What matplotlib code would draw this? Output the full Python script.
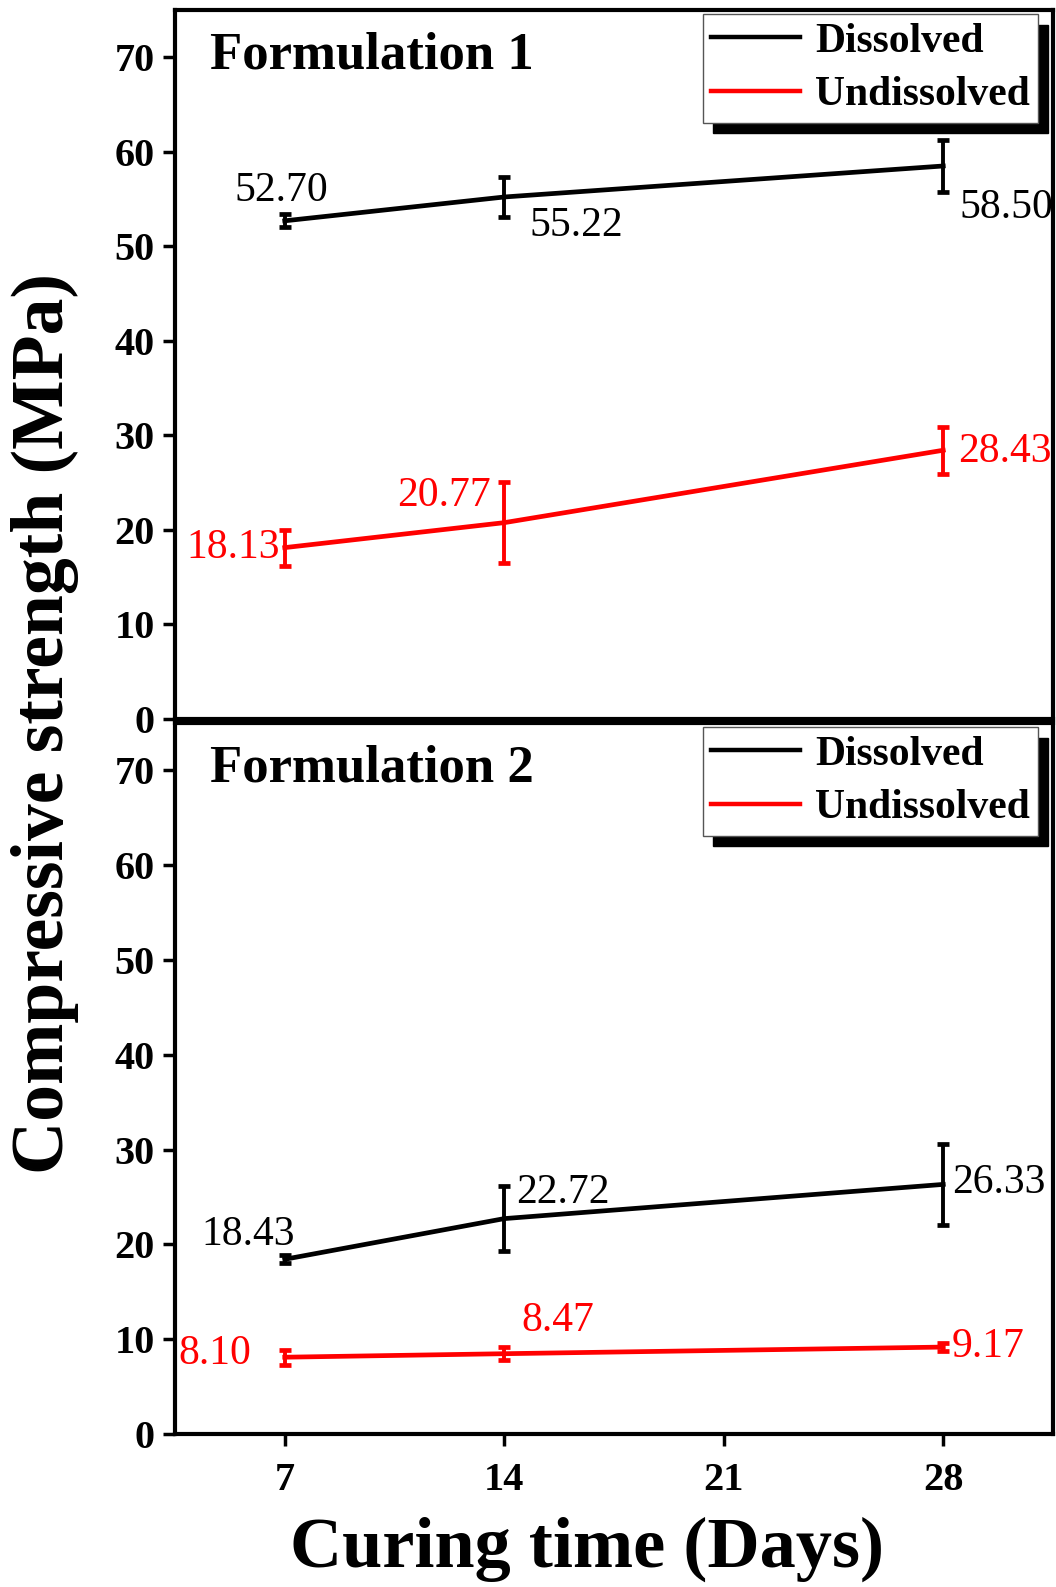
import matplotlib
matplotlib.use("Agg")
import matplotlib.pyplot as plt
from matplotlib.lines import Line2D
from matplotlib.patches import Shadow

plt.rcParams['font.family'] = ['Liberation Serif', 'DejaVu Serif']

# ---- data ----
days = [7, 14, 28]
xticks = [7, 14, 21, 28]
yticks = [0, 10, 20, 30, 40, 50, 60, 70]

f1_dissolved = [52.70, 55.22, 58.50]
f1_dissolved_err = [0.7, 2.1, 2.8]
f1_undissolved = [18.13, 20.77, 28.43]
f1_undissolved_err = [1.9, 4.3, 2.5]

f2_dissolved = [18.43, 22.72, 26.33]
f2_dissolved_err = [0.4, 3.45, 4.3]
f2_undissolved = [8.10, 8.47, 9.17]
f2_undissolved_err = [0.8, 0.7, 0.4]

panel_titles = ["Formulation 1", "Formulation 2"]
series_names = ["Dissolved", "Undissolved"]
series_colors = ["black", "#ff0000"]

# label placement (x, y, ha) per point
f1_d_lab = [(6.9, 55.9, 'center'), (16.3, 52.2, 'center'), (30.0, 54.1, 'center')]
f1_u_lab = [(6.84, 18.1, 'right'), (13.58, 23.6, 'right'), (28.48, 28.3, 'left')]
f2_d_lab = [(5.84, 21.0, 'center'), (14.39, 25.5, 'left'), (28.29, 26.5, 'left')]
f2_u_lab = [(5.94, 8.5, 'right'), (14.55, 11.9, 'left'), (28.26, 9.25, 'left')]

W, H = 1056, 1587
fig = plt.figure(figsize=(W / 100, H / 100), dpi=100)

def fx(px):
    return px / W

def fy(py):
    return (H - py) / H

left, right = 175, 1053
ax1 = fig.add_axes([fx(left), fy(719), fx(right - left), (719 - 10) / H])
ax2 = fig.add_axes([fx(left), fy(1434), fx(right - left), (1434 - 723) / H])

panels = [
    (ax1, [(f1_dissolved, f1_dissolved_err, f1_d_lab), (f1_undissolved, f1_undissolved_err, f1_u_lab)]),
    (ax2, [(f2_dissolved, f2_dissolved_err, f2_d_lab), (f2_undissolved, f2_undissolved_err, f2_u_lab)]),
]

for i, (ax, series) in enumerate(panels):
    for (vals, errs, labs), color in zip(series, series_colors):
        ax.errorbar(days, vals, yerr=errs, color=color, lw=3.4, elinewidth=2.8,
                    capsize=4.5, capthick=3.4, zorder=3)
        for v, (lx, ly, ha) in zip(vals, labs):
            ax.text(lx, ly, f"{v:.2f}", color=color, fontsize=30, ha=ha, va='center')
    ax.set_xlim(3.5, 31.5)
    ax.set_ylim(0, 75)
    ax.set_yticks(yticks)
    ax.set_xticks(xticks)
    for sp in ax.spines.values():
        sp.set_linewidth(3.0)
    ax.tick_params(axis='both', direction='out', length=8.5, width=2.5,
                   labelsize=29, pad=6)
    for lab in ax.get_yticklabels() + ax.get_xticklabels():
        lab.set_fontweight('bold')
    ax.text(0.040, 0.936, panel_titles[i], transform=ax.transAxes, fontsize=38,
            fontweight='bold', ha='left', va='center')
    handles = [Line2D([], [], color=c, lw=3.2) for c in series_colors]
    leg = ax.legend(handles, series_names, loc='upper right',
                    bbox_to_anchor=(0.983, 0.994), frameon=True, fancybox=False,
                    prop={'weight': 'bold', 'size': 30}, handlelength=2.13,
                    handletextpad=0.36, labelspacing=0.37, borderpad=0.2,
                    borderaxespad=0.0, framealpha=1)
    leg.get_frame().set_edgecolor('#555555')
    leg.get_frame().set_linewidth(1.0)
    leg.set_zorder(6)
    sh = Shadow(leg.legendPatch, 7.5, -7.5, facecolor='black', edgecolor='black', alpha=1)
    sh.set_zorder(5.5)
    ax.add_artist(sh)

ax1.tick_params(axis='x', bottom=False, labelbottom=False)
ax2.tick_params(axis='x', pad=12)

fig.text(0.043, fy(724), "Compressive strength (MPa)", rotation=90, fontsize=53,
         fontweight='bold', ha='center', va='center')
fig.text(fx(587), fy(1567), "Curing time (Days)", fontsize=52, fontweight='bold',
         ha='center', va='baseline')

fig.canvas.draw()
fig.savefig("out.png", dpi=100)
